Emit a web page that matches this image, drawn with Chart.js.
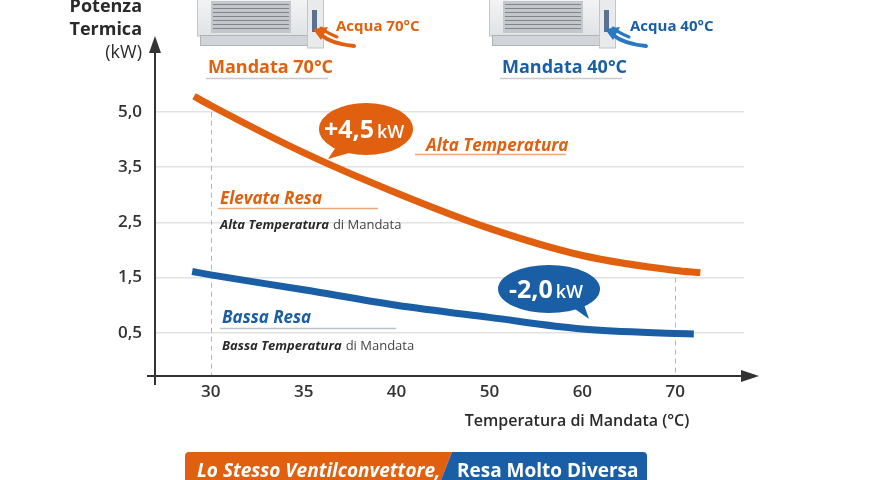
<!DOCTYPE html>
<html>
<head>
<meta charset="utf-8">
<script src="https://cdn.jsdelivr.net/npm/chart.js@4.4.1/dist/chart.umd.min.js"></script>
<style>
  body { margin: 0; background: #fff; }
  canvas { display: block; }
</style>
</head>
<body>
<canvas id="chart" width="880" height="480"></canvas>
<script>
// tick values as printed on the axes (both axes are not to scale in the original)
const xTicks = [30, 35, 40, 50, 60, 70];
const yTicks = [0.5, 1.5, 2.5, 3.5, 5.0];
const yTickLabels = ["0,5", "1,5", "2,5", "3,5", "5,0"];

// Alta temperatura (mandata 70°C) curve
const tempAlta = [29.1, 30, 35, 40, 50, 60, 70, 72.7];
const kwAlta = [5.42, 5.17, 3.89, 3.03, 2.39, 1.90, 1.63, 1.59];

// Bassa temperatura (mandata 40°C) curve
const tempBassa = [29.0, 30, 35, 40, 50, 60, 70, 72.0];
const kwBassa = [1.61, 1.55, 1.28, 1.00, 0.78, 0.57, 0.49, 0.48];

const ORANGE = "#e0600f";
const BLUE = "#1a5fa6";
const DARK = "#2a2a2a";
const FONT = "'Open Sans', 'Noto Sans', sans-serif";

// ticks sit at equal steps, so map a value to its "slot" between printed ticks
function toSlot(v, ticks) {
  const n = ticks.length;
  let i = 0;
  if (v >= ticks[n - 1]) i = n - 2;
  else if (v > ticks[0]) {
    while (v > ticks[i + 1]) i++;
  }
  return i + (v - ticks[i]) / (ticks[i + 1] - ticks[i]);
}

const points = (xs, ys) => xs.map((t, i) => ({ x: toSlot(t, xTicks), y: toSlot(ys[i], yTicks) }));

function runs(ctx, x, y, parts) {
  let cx = x;
  parts.forEach(p => {
    ctx.font = p.font;
    ctx.fillStyle = p.color;
    ctx.fillText(p.t, cx, y);
    cx += ctx.measureText(p.t).width + (p.gap || 0);
  });
  return cx;
}

function bubble(ctx, cx, cy, rx, ry, tail, color) {
  ctx.fillStyle = color;
  ctx.beginPath();
  ctx.ellipse(cx, cy, rx, ry, 0, 0, Math.PI * 2);
  ctx.fill();
  ctx.beginPath();
  ctx.moveTo(tail[0], tail[1]);
  ctx.lineTo(tail[2], tail[3]);
  ctx.lineTo(tail[4], tail[5]);
  ctx.closePath();
  ctx.fill();
}

function fanUnit(ctx, x0) {
  ctx.save();
  let g = ctx.createLinearGradient(0, -10, 0, 45);
  g.addColorStop(0, "#f6f7f8");
  g.addColorStop(1, "#dcdfe2");
  ctx.fillStyle = g;
  ctx.strokeStyle = "#c3c6c9";
  ctx.lineWidth = 1;
  ctx.fillRect(x0, -10, 114, 46);
  ctx.strokeRect(x0 + 0.5, -10, 114, 46);
  // grill
  ctx.fillStyle = "#c4c8cc";
  ctx.fillRect(x0 + 14, 1, 80, 32);
  ctx.strokeStyle = "#7f858b";
  for (let y = 4; y < 32; y += 4) {
    ctx.beginPath();
    ctx.moveTo(x0 + 16, y + 0.5);
    ctx.lineTo(x0 + 92, y + 0.5);
    ctx.stroke();
  }
  // base
  ctx.fillStyle = "#d2d5d8";
  ctx.fillRect(x0 + 3, 35, 110, 10);
  ctx.strokeStyle = "#b0b4b8";
  ctx.strokeRect(x0 + 3.5, 35.5, 110, 10);
  // side panel + pipe
  ctx.fillStyle = "#e8eaec";
  ctx.fillRect(x0 + 110, -5, 16, 53);
  ctx.strokeStyle = "#c3c6c9";
  ctx.strokeRect(x0 + 110.5, -5, 16, 53);
  ctx.fillStyle = "#5b718e";
  ctx.fillRect(x0 + 115, 10, 5, 22);
  ctx.restore();
}

function waterArrow(ctx, x0, color) {
  ctx.save();
  ctx.strokeStyle = color;
  ctx.fillStyle = color;
  ctx.lineWidth = 4;
  ctx.lineCap = "round";
  ctx.beginPath();
  ctx.moveTo(x0 + 157, 46);
  ctx.quadraticCurveTo(x0 + 135, 44, x0 + 124, 35);
  ctx.stroke();
  ctx.lineWidth = 3;
  ctx.beginPath();
  ctx.moveTo(x0 + 140, 37);
  ctx.quadraticCurveTo(x0 + 130, 33, x0 + 124, 28);
  ctx.stroke();
  ctx.beginPath();
  ctx.moveTo(x0 + 116, 29);
  ctx.lineTo(x0 + 131, 27);
  ctx.lineTo(x0 + 124, 40);
  ctx.closePath();
  ctx.fill();
  ctx.restore();
}

const deco = {
  id: "deco",
  beforeDatasetsDraw(chart) {
    const ctx = chart.ctx;
    const xs = chart.scales.x, ys = chart.scales.y;
    const bottom = chart.chartArea.bottom;
    ctx.save();
    // dashed guides at 30 and 70
    ctx.strokeStyle = "#b5b5b5";
    ctx.lineWidth = 1;
    ctx.setLineDash([5, 4]);
    let px = Math.round(xs.getPixelForValue(0)) + 0.5;
    ctx.beginPath();
    ctx.moveTo(px, ys.getPixelForValue(4));
    ctx.lineTo(px, bottom);
    ctx.stroke();
    px = Math.round(xs.getPixelForValue(5)) + 0.5;
    ctx.beginPath();
    ctx.moveTo(px, ys.getPixelForValue(1));
    ctx.lineTo(px, bottom);
    ctx.stroke();
    ctx.setLineDash([]);
    // axes with arrows
    const left = chart.chartArea.left;
    ctx.strokeStyle = "#333";
    ctx.fillStyle = "#333";
    ctx.lineWidth = 2;
    ctx.beginPath();
    ctx.moveTo(left, bottom + 9);
    ctx.lineTo(left, 50);
    ctx.moveTo(left - 8, bottom);
    ctx.lineTo(744, bottom);
    ctx.stroke();
    ctx.beginPath();
    ctx.moveTo(left, 36);
    ctx.lineTo(left - 6, 53);
    ctx.lineTo(left + 6, 53);
    ctx.closePath();
    ctx.fill();
    ctx.beginPath();
    ctx.moveTo(759, bottom);
    ctx.lineTo(741, bottom - 6);
    ctx.lineTo(741, bottom + 6);
    ctx.closePath();
    ctx.fill();
    ctx.restore();
  },
  afterDatasetsDraw(chart) {
    const ctx = chart.ctx;
    ctx.save();
    ctx.textBaseline = "alphabetic";
    ctx.textAlign = "left";

    // y axis title
    ctx.textAlign = "right";
    ctx.fillStyle = DARK;
    ctx.font = "bold 18px " + FONT;
    ctx.fillText("Potenza", 142, 12);
    ctx.fillText("Termica", 142, 35);
    ctx.font = "18px " + FONT;
    ctx.fillText("(kW)", 142, 58);

    // x axis title
    ctx.textAlign = "center";
    ctx.font = "600 16px " + FONT;
    ctx.fillText("Temperatura di Mandata (°C)", 577, 426);
    ctx.textAlign = "left";

    // fan coil units and their labels
    fanUnit(ctx, 197);
    fanUnit(ctx, 489);
    waterArrow(ctx, 197, ORANGE);
    waterArrow(ctx, 489, "#2a78c0");
    ctx.font = "bold 15px " + FONT;
    ctx.fillStyle = ORANGE;
    ctx.fillText("Acqua 70°C", 336, 31);
    ctx.fillStyle = BLUE;
    ctx.fillText("Acqua 40°C", 630, 31);
    ctx.font = "bold 18px " + FONT;
    ctx.fillStyle = ORANGE;
    ctx.fillText("Mandata 70°C", 208, 73);
    ctx.fillStyle = BLUE;
    ctx.fillText("Mandata 40°C", 502, 73);
    ctx.strokeStyle = "#c9c9c9";
    ctx.lineWidth = 1.5;
    ctx.beginPath();
    ctx.moveTo(206, 78.5); ctx.lineTo(328, 78.5);
    ctx.moveTo(500, 78.5); ctx.lineTo(622, 78.5);
    ctx.stroke();

    // bubbles
    bubble(ctx, 366, 129, 47, 26, [338, 144, 356, 151, 328, 159], ORANGE);
    runs(ctx, 324, 138, [
      { t: "+4,5", font: "bold 25px " + FONT, color: "#fff", gap: 3 },
      { t: "kW", font: "600 18px " + FONT, color: "#fff" }
    ]);
    bubble(ctx, 549, 289, 51, 24, [568, 304, 582, 299, 589, 319], BLUE);
    runs(ctx, 509, 298, [
      { t: "-2,0", font: "bold 25px " + FONT, color: "#fff", gap: 3 },
      { t: "kW", font: "600 18px " + FONT, color: "#fff" }
    ]);

    // curve labels
    ctx.font = "italic bold 17px " + FONT;
    ctx.fillStyle = ORANGE;
    ctx.fillText("Alta Temperatura", 426, 151);
    ctx.fillText("Elevata Resa", 220, 204);
    ctx.fillStyle = BLUE;
    ctx.fillText("Bassa Resa", 222, 323);
    ctx.lineWidth = 1.5;
    ctx.strokeStyle = "#eca67a";
    ctx.beginPath();
    ctx.moveTo(415, 154.5); ctx.lineTo(566, 154.5);
    ctx.moveTo(218, 208.5); ctx.lineTo(378, 208.5);
    ctx.stroke();
    ctx.strokeStyle = "#b9c3cc";
    ctx.beginPath();
    ctx.moveTo(220, 328.5); ctx.lineTo(396, 328.5);
    ctx.stroke();
    runs(ctx, 220, 229, [
      { t: "Alta Temperatura", font: "italic bold 13px " + FONT, color: DARK, gap: 4 },
      { t: "di Mandata", font: "13px " + FONT, color: "#444" }
    ]);
    runs(ctx, 222, 350, [
      { t: "Bassa Temperatura", font: "italic bold 13px " + FONT, color: DARK, gap: 4 },
      { t: "di Mandata", font: "13px " + FONT, color: "#444" }
    ]);

    // bottom banner
    ctx.fillStyle = ORANGE;
    ctx.beginPath();
    ctx.moveTo(185, 480);
    ctx.lineTo(185, 456);
    ctx.quadraticCurveTo(185, 452, 189, 452);
    ctx.lineTo(452, 452);
    ctx.lineTo(441, 480);
    ctx.closePath();
    ctx.fill();
    ctx.fillStyle = BLUE;
    ctx.beginPath();
    ctx.moveTo(452, 452);
    ctx.lineTo(643, 452);
    ctx.quadraticCurveTo(647, 452, 647, 456);
    ctx.lineTo(647, 480);
    ctx.lineTo(441, 480);
    ctx.closePath();
    ctx.fill();
    ctx.fillStyle = "#fff";
    ctx.font = "italic bold 19px " + FONT;
    ctx.fillText("Lo Stesso Ventilconvettore,", 197, 477);
    ctx.font = "bold 19px " + FONT;
    ctx.fillText("Resa Molto Diversa", 457, 477);
    ctx.restore();
  }
};

new Chart("chart", {
  type: "line",
  data: {
    datasets: [{
      label: "Alta Temperatura",
      data: points(tempAlta, kwAlta),
      borderColor: ORANGE,
      borderWidth: 7,
      pointRadius: 0,
      cubicInterpolationMode: "monotone"
    }, {
      label: "Bassa Temperatura",
      data: points(tempBassa, kwBassa),
      borderColor: BLUE,
      borderWidth: 7,
      pointRadius: 0,
      cubicInterpolationMode: "monotone"
    }]
  },
  options: {
    responsive: false,
    animation: false,
    layout: { padding: { top: 62, right: 136, left: 0, bottom: 0 } },
    plugins: { legend: { display: false }, tooltip: { enabled: false } },
    scales: {
      x: {
        type: "linear",
        min: -0.6,
        max: 5.74,
        afterBuildTicks: s => { s.ticks = xTicks.map((_, i) => ({ value: i })); },
        afterFit: s => { s.height = 104; },
        ticks: {
          callback: v => xTicks[v],
          font: { family: FONT, size: 17, weight: "600" },
          color: "#333",
          padding: 6,
          maxRotation: 0
        },
        grid: { display: false, drawTicks: false },
        border: { display: false }
      },
      y: {
        type: "linear",
        min: -0.78,
        max: 4.9,
        afterBuildTicks: s => { s.ticks = yTicks.map((_, i) => ({ value: i })); },
        afterFit: s => { s.width = 155; },
        ticks: {
          callback: v => yTickLabels[v],
          font: { family: FONT, size: 17, weight: "600" },
          color: "#333",
          padding: 13
        },
        grid: { color: "#e2e2e2", lineWidth: 1.5, drawTicks: false },
        border: { display: false }
      }
    }
  },
  plugins: [deco]
});
</script>
</body>
</html>
